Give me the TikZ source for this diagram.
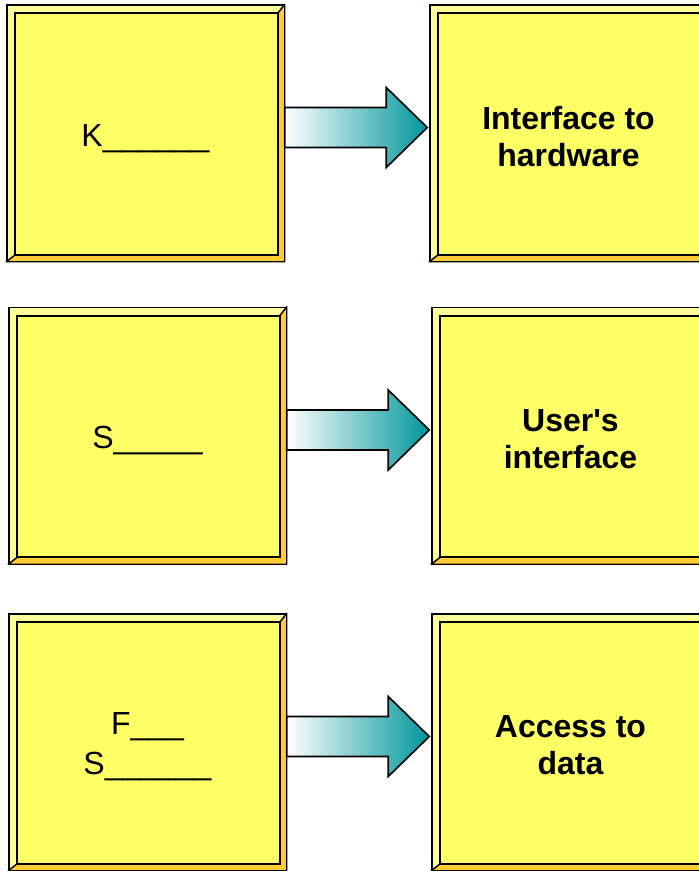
\documentclass[tikz,border=0pt]{standalone}
\usepackage{fontspec}
\setmainfont{Liberation Sans}
\usetikzlibrary{calc}
\definecolor{boxyellow}{RGB}{255,255,102}
\definecolor{bevellight}{RGB}{255,255,153}
\definecolor{beveldark}{RGB}{255,204,51}
\definecolor{arrowteal}{RGB}{0,150,155}

\begin{document}
\begin{tikzpicture}[x=0.75pt,y=0.75pt,yscale=-1,xscale=1,
    bevelbox/.style={draw=black,line width=1.1pt,fill=bevellight,inner sep=0pt,minimum width=207.75pt,minimum height=192pt},
    bevelside/.style={fill=beveldark,draw=black,line width=1.1pt,line join=round},
    innerface/.style={fill=boxyellow,draw=black,line width=1.4pt},
    flowarrow/.style={left color=white,right color=arrowteal,draw=black,line width=1.2pt,line join=miter},
    blanktext/.style={font=\fontsize{24}{30}\selectfont,align=center,inner sep=0pt},
    labeltext/.style={font=\fontsize{24}{27.75}\selectfont\bfseries,align=center,inner sep=0pt}]
\useasboundingbox (0,0) rectangle (699,871);
\clip (0,0) rectangle (699,871);

% boxes
\node [bevelbox] (kernel) at (145.5,133) {};
\node [bevelbox] (hardware) at (568.5,133) {};
\node [bevelbox] (shell) at (147.5,435.5) {};
\node [bevelbox] (userif) at (570.5,435.5) {};
\node [bevelbox] (filesys) at (147.5,742) {};
\node [bevelbox] (data) at (570.5,742) {};

\foreach \b in {kernel,hardware,shell,userif,filesys,data}{
    \draw [bevelside] (\b.north east) -- (\b.south east) -- (\b.south west) -- ($(\b.south west)+(9,-7)$) -- ($(\b.south east)+(-7,-7)$) -- ($(\b.north east)+(-7,9)$) -- cycle ;
    \draw [innerface] ($(\b.north west)+(9,9)$) rectangle ($(\b.south east)+(-7,-7)$) ;
}

% arrows
\coordinate (t1) at ($(hardware.west)+(-2,-5.5)$);
\coordinate (t2) at ($(userif.west)+(-2,-5.5)$);
\coordinate (t3) at ($(data.west)+(-2,-5.5)$);
\shade [flowarrow] ($(kernel.east)+(0,-25.5)$) -- ($(t1)+(-41,-20)$) -- ($(t1)+(-41,-40)$) -- (t1) -- ($(t1)+(-41,40)$) -- ($(t1)+(-41,20)$) -- ($(kernel.east)+(0,14.5)$) -- cycle ;
\shade [flowarrow] ($(shell.east)+(0,-25.5)$) -- ($(t2)+(-41,-20)$) -- ($(t2)+(-41,-40)$) -- (t2) -- ($(t2)+(-41,40)$) -- ($(t2)+(-41,20)$) -- ($(shell.east)+(0,14.5)$) -- cycle ;
\shade [flowarrow] ($(filesys.east)+(0,-25.5)$) -- ($(t3)+(-41,-20)$) -- ($(t3)+(-41,-40)$) -- (t3) -- ($(t3)+(-41,40)$) -- ($(t3)+(-41,20)$) -- ($(filesys.east)+(0,14.5)$) -- cycle ;

% texts
\node [blanktext,anchor=base] (ktext) at ($(kernel.center)+(0,13.7)$) {K\_\_\_\_\_\_};
\node [blanktext,anchor=base] (stext) at ($(shell.center)+(0,13.2)$) {S\_\_\_\_\_};
\node [blanktext] (fstext) at ($(filesys.center)+(0,5)$) {F\_\_\_\\S\_\_\_\_\_\_};
\node [labeltext] (hwtext) at ($(hardware.center)+(0,4)$) {Interface to\\hardware};
\node [labeltext] (uitext) at ($(userif.center)+(0,4)$) {User\textquotesingle s\\interface};
\node [labeltext] (datext) at ($(data.center)+(0,3.5)$) {Access to\\data};
\end{tikzpicture}
\end{document}
